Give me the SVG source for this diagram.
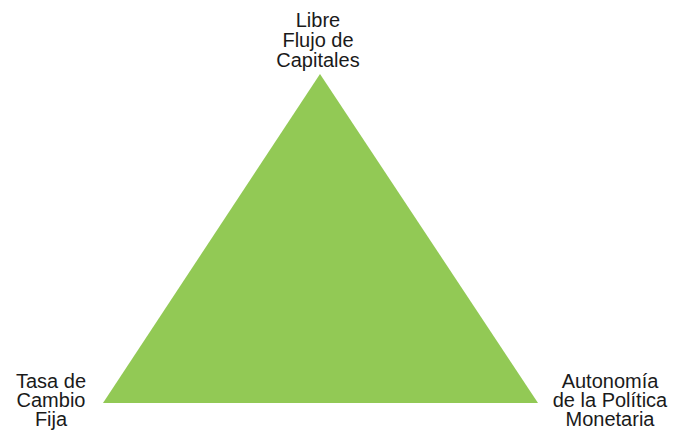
<svg xmlns="http://www.w3.org/2000/svg" width="674" height="430" viewBox="0 0 674 430">
<style>
text { font-family: "Liberation Sans", Arial, sans-serif; font-size: 20px; fill: #1a1a1a; text-anchor: middle; }
</style>
<rect width="674" height="430" fill="#ffffff"/>
<g id="triangle">
<polygon points="320,74 103,403 538,403" fill="#92C955"/>
</g>
<g id="node-top">
<text x="318" y="27">Libre</text>
<text x="318" y="47">Flujo de</text>
<text x="318" y="67">Capitales</text>
</g>
<g id="node-left">
<text x="51" y="388">Tasa de</text>
<text x="51" y="407">Cambio</text>
<text x="51" y="426">Fija</text>
</g>
<g id="node-right">
<text x="610" y="388">Autonomía</text>
<text x="610" y="407">de la Política</text>
<text x="610" y="426">Monetaria</text>
</g>
<g id="connectors"></g>
</svg>
